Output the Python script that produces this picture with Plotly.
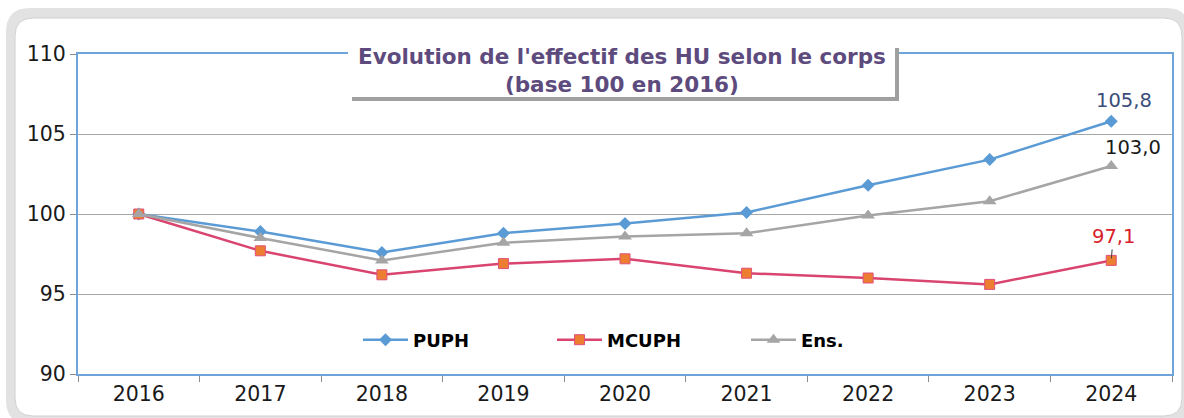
import plotly.graph_objects as go

years = ["2016", "2017", "2018", "2019", "2020", "2021", "2022", "2023", "2024"]
puph = [100.0, 98.9, 97.6, 98.8, 99.4, 100.1, 101.8, 103.4, 105.8]
mcuph = [100.0, 97.7, 96.2, 96.9, 97.2, 96.3, 96.0, 95.6, 97.1]
ens = [100.0, 98.5, 97.1, 98.2, 98.6, 98.8, 99.9, 100.8, 103.0]
y_ticks = [90, 95, 100, 105, 110]

FONT = "DejaVu Sans, Arial, sans-serif"
W, H = 1184, 418
L, R, T, B = 78, 12, 54, 44
PW, PH = W - L - R, H - T - B


def px_x(p):
    return (p - L) / PW


def px_y(p):
    return (H - B - p) / PH


fig = go.Figure()
fig.add_trace(go.Scatter(
    x=years, y=puph, name="PUPH", mode="lines+markers",
    line=dict(color="#5B9BD5", width=2.5),
    marker=dict(symbol="diamond", size=10, color="#5B9BD5"),
))
fig.add_trace(go.Scatter(
    x=years, y=mcuph, name="MCUPH", mode="lines+markers",
    line=dict(color="#D9456F", width=2.5),
    marker=dict(symbol="square", size=10, color="#ED7D31",
                line=dict(color="#E0507A", width=1)),
))
fig.add_trace(go.Scatter(
    x=years, y=ens, name="Ens.", mode="lines+markers",
    line=dict(color="#A5A5A5", width=2.5),
    marker=dict(symbol="triangle-up", size=12, color="#A5A5A5"),
))


def fmt(v):
    return f"{v:.1f}".replace(".", ",")


last = len(years) - 1  # category index of the last year
fig.add_annotation(x=last, y=puph[-1], text=fmt(puph[-1]), showarrow=False,
                   xshift=13, yshift=21, font=dict(family=FONT, size=19.5, color="#3B4E7A"))
fig.add_annotation(x=last, y=ens[-1], text=fmt(ens[-1]), showarrow=False,
                   xshift=22, yshift=19, font=dict(family=FONT, size=19.5, color="#1A1A1A"))
fig.add_annotation(x=last, y=mcuph[-1], text=fmt(mcuph[-1]), showarrow=True,
                   ax=2, ay=-24, arrowhead=0, arrowwidth=1, arrowcolor="#404040",
                   standoff=2, font=dict(family=FONT, size=19.5, color="#D9202A"))


# outer rounded frame with shadow
def rounded(x0, y0, x1, y1, r):
    rx, ry = r / PW, r / PH
    return (f"M {x0+rx},{y0} L {x1-rx},{y0} Q {x1},{y0} {x1},{y0+ry} "
            f"L {x1},{y1-ry} Q {x1},{y1} {x1-rx},{y1} L {x0+rx},{y1} "
            f"Q {x0},{y1} {x0},{y1-ry} L {x0},{y0+ry} Q {x0},{y0} {x0+rx},{y0} Z")


shadow = rounded(px_x(6), px_y(424), px_x(1190), px_y(8), 24)
fig.add_shape(type="path", path=shadow, xref="paper", yref="paper",
              line=dict(width=0), fillcolor="#E2E2E2", layer="below")
fig.add_shape(type="path", path=rounded(px_x(15), px_y(416), px_x(1182), px_y(18), 18),
              xref="paper", yref="paper",
              line=dict(color="#D0D0D0", width=1), fillcolor="white", layer="below")

# title box with shadow
bx0, bx1, by0, by1 = 348, 895, 44, 97
fig.add_shape(type="rect", xref="paper", yref="paper",
              x0=px_x(bx0 + 4), x1=px_x(bx1 + 4), y0=px_y(by1 + 4), y1=px_y(by0 + 4),
              line=dict(width=0), fillcolor="#A0A0A0", layer="above")
fig.add_shape(type="rect", xref="paper", yref="paper",
              x0=px_x(bx0), x1=px_x(bx1), y0=px_y(by1), y1=px_y(by0),
              line=dict(width=0), fillcolor="white", layer="above")
fig.add_annotation(xref="paper", yref="paper", x=px_x((bx0 + bx1) / 2), y=px_y((by0 + by1) / 2),
                   xanchor="center", yanchor="middle",
                   text="<b>Evolution de l'effectif des HU selon le corps<br>(base 100 en 2016)</b>",
                   showarrow=False, align="center",
                   font=dict(family=FONT, size=21.5, color="#5E4B7E"))

fig.update_layout(
    width=W, height=H,
    margin=dict(l=L, r=R, t=T, b=B, autoexpand=False),
    paper_bgcolor="white", plot_bgcolor="rgba(0,0,0,0)",
    font=dict(family=FONT, size=20, color="#1A1A1A"),
    showlegend=True,
    legend=dict(orientation="h", x=px_x(358), y=px_y(340), xanchor="left", yanchor="middle",
                bgcolor="rgba(0,0,0,0)", itemwidth=45, entrywidth=134,
                font=dict(family=FONT, size=18, color="black", weight="bold")),
)
fig.update_xaxes(type="category", categoryorder="array", categoryarray=years,
                 range=[-0.5, len(years) - 0.5], tickson="boundaries", ticks="outside",
                 ticklen=6, tickcolor="#8C8C8C", showgrid=False, showline=True, mirror=True,
                 linecolor="#6FA4DA", linewidth=2, tickangle=0,
                 tickfont=dict(family=FONT, size=20.5, color="#1A1A1A"))
fig.update_yaxes(range=[90, 110], tickvals=y_ticks, ticks="outside", ticklen=6,
                 tickcolor="#8C8C8C", showgrid=True, gridcolor="#A6A6A6", gridwidth=1,
                 showline=True, mirror=True, linecolor="#6FA4DA", linewidth=2,
                 zeroline=False, tickfont=dict(family=FONT, size=20.5, color="#1A1A1A"))

fig.write_html("out.html", config={"displayModeBar": False},
               post_script="document.body.style.margin='0px';")
